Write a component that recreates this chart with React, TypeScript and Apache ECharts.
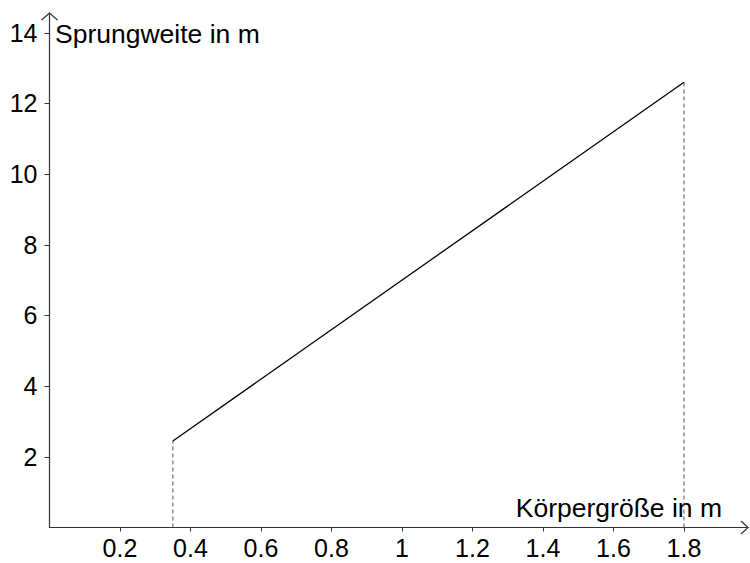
import React, { useEffect, useRef } from "react";
import * as echarts from "echarts";

const xTicks = [0.2, 0.4, 0.6, 0.8, 1, 1.2, 1.4, 1.6, 1.8];
const yTicks = [2, 4, 6, 8, 10, 12, 14];
const lineX = [0.35, 1.8];
const lineY = [2.45, 12.6];
const xName = "Körpergröße in m";
const yName = "Sprungweite in m";

export default function App() {
  const ref = useRef<HTMLDivElement>(null);
  useEffect(() => {
    document.body.style.margin = "0";
    const chart = echarts.init(ref.current!, null, { renderer: "svg" });
    const font = "'Liberation Sans', Arial, sans-serif";
    const xMax = 1.9816;
    const yMax = 14.56;
    chart.setOption({
      animation: false,
      grid: { left: 49.5, right: 2, top: 13, bottom: 35.5 },
      xAxis: {
        type: "value",
        min: 0,
        max: xMax,
        splitLine: { show: false },
        axisLine: { lineStyle: { color: "#333", width: 1.2 } },
        axisTick: { customValues: xTicks, length: 4, lineStyle: { color: "#333" } },
        axisLabel: {
          customValues: xTicks,
          color: "#000",
          fontFamily: font,
          fontSize: 25,
          margin: 8,
          formatter: (v: number) => String(Math.round(v * 10) / 10),
        },
      },
      yAxis: {
        type: "value",
        min: 0,
        max: yMax,
        splitLine: { show: false },
        axisLine: { lineStyle: { color: "#333", width: 1.2 } },
        axisTick: { customValues: yTicks, length: 5, lineStyle: { color: "#333" } },
        axisLabel: {
          customValues: yTicks,
          color: "#000",
          fontFamily: font,
          fontSize: 25,
          margin: 12,
        },
      },
      series: [
        {
          type: "line",
          data: lineX.map((x, i) => [x, lineY[i]]),
          symbol: "none",
          lineStyle: { color: "#000", width: 1.3 },
        },
        ...lineX.map((x, i) => ({
          type: "line",
          data: [
            [x, 0],
            [x, lineY[i]],
          ],
          symbol: "none",
          lineStyle: { color: "#555", width: 1, type: [4, 3] },
        })),
      ],
    });
    const [ox, oy] = chart.convertToPixel({ gridIndex: 0 }, [0, 0]) as number[];
    const [ex, ey] = chart.convertToPixel({ gridIndex: 0 }, [xMax, yMax]) as number[];
    chart.setOption({
      graphic: [
        {
          type: "polyline",
          shape: { points: [[ex - 7, oy - 6.5], [ex, oy], [ex - 7, oy + 6.5]] },
          style: { stroke: "#333", lineWidth: 1.2, fill: "none" },
        },
        {
          type: "polyline",
          shape: { points: [[ox - 8, ey + 7], [ox, ey], [ox + 8, ey + 7]] },
          style: { stroke: "#333", lineWidth: 1.2, fill: "none" },
        },
        {
          type: "text",
          x: ox + 5.5,
          y: 47,
          style: { text: yName, font: `26.5px ${font}`, fill: "#000", textVerticalAlign: "bottom" },
        },
        {
          type: "text",
          x: 722,
          y: 521,
          style: { text: xName, font: `26.5px ${font}`, fill: "#000", textAlign: "right", textVerticalAlign: "bottom" },
        },
      ],
    });
    return () => chart.dispose();
  }, []);
  return <div ref={ref} style={{ width: 750, height: 563 }} />;
}
